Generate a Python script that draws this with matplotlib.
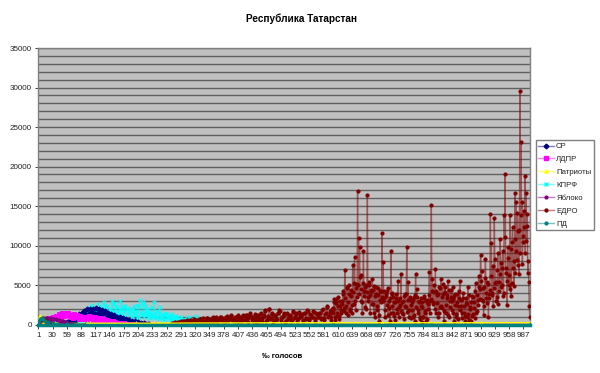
import numpy as np
import matplotlib
matplotlib.use('Agg')
import matplotlib.pyplot as plt

plt.rcParams['font.family'] = ['Liberation Sans', 'DejaVu Sans']

title = 'Республика Татарстан'
xlabel = '‰ голосов'
tick_labels = [1, 30, 59, 88, 117, 146, 175, 204, 233, 262, 291, 320, 349, 378, 407, 436, 465,
               494, 523, 552, 581, 610, 639, 668, 697, 726, 755, 784, 813, 842, 871, 900, 929, 958, 987]
y_ticks = [0, 5000, 10000, 15000, 20000, 25000, 30000, 35000]

# values, one row = 10 bins of the step given in the x list
sr_x = list(range(50, 230, 3)) + [240, 1000]
sr_y = [100, 200, 150, 300, 250, 400, 350, 500, 450, 600,
        900, 1300, 800, 1500, 1100, 1700, 1200, 1900, 1300, 2000,
        1500, 2000, 1300, 2100, 1500, 1900, 1200, 1800, 1400, 1700,
        1000, 1500, 800, 1300, 900, 1200, 600, 1000, 700, 900,
        500, 800, 400, 700, 300, 600, 250, 500, 200, 400,
        150, 350, 100, 250, 80, 150, 50, 100, 30, 50,
        0, 0]

ldpr_x = list(range(5, 197, 3)) + [1000]
ldpr_y = [300, 500, 600, 700, 650, 800, 700, 850, 750, 900,
          800, 1100, 900, 1300, 1000, 1400, 1100, 1500, 1200, 1400,
          900, 1200, 800, 1300, 1000, 1200, 700, 1100, 800, 1000,
          700, 1000, 600, 1100, 800, 900, 500, 1000, 600, 800,
          500, 800, 400, 700, 350, 600, 300, 500, 250, 400,
          200, 300, 150, 250, 100, 200, 80, 150, 50, 100,
          50, 80, 30, 20, 100]

patr_x = [1, 3, 5, 7, 10, 14, 20, 40, 100, 200, 300, 400, 500, 600, 700, 800, 900, 1000]
patr_y = [300, 700, 1050, 800, 450, 300, 250, 200, 150, 150, 180, 200, 220, 220, 220, 220, 220, 220]

kprf_x = list(range(60, 345, 3))
kprf_y = [100, 200, 150, 300, 200, 350, 250, 400, 300, 500,
          400, 700, 500, 1000, 600, 2200, 1300, 2500, 1100, 2100,
          1400, 2600, 1000, 2300, 1700, 2800, 1200, 2400, 1500, 2000,
          3000, 1100, 2700, 1400, 2200, 900, 3000, 1300, 1900, 2400,
          1000, 2100, 1500, 1800, 900, 2300, 1200, 2500, 800, 3100,
          1400, 2800, 1000, 2400, 1300, 1900, 800, 1500, 1000, 2900,
          1100, 1700, 700, 2200, 900, 1300, 700, 1500, 800, 1200,
          600, 1300, 800, 1100, 500, 900, 600, 1000, 400, 700,
          500, 800, 400, 1000, 600, 300, 500, 1100, 700, 300,
          200, 400, 150, 300, 100]
kprf_x2 = list(range(101, 281, 3))
kprf_y2 = [1300, 1900, 1000, 1600, 2000, 1200, 1700, 900, 2100, 1400,
           1800, 1100, 2300, 1500, 1000, 2000, 1300, 2600, 1700, 1100,
           2200, 1500, 1900, 1200, 2400, 1600, 1000, 2100, 1400, 1800,
           1100, 2000, 1300, 1700, 1000, 2300, 1500, 1200, 2600, 1300,
           1800, 900, 1500, 1100, 2200, 1300, 800, 1700, 1000, 1400,
           800, 1200, 600, 1300, 900, 1100, 600, 1000, 700, 900]

yab_x = list(range(1, 70, 3))
yab_y = [300, 500, 600, 700, 750, 800, 800, 750, 800, 700,
         750, 650, 700, 600, 550, 500, 450, 400, 350, 300,
         200, 100, 50]

edro_x = (list(range(1, 34, 3)) + list(range(272, 600, 3)) + list(range(600, 1001, 2)))
edro_y = [200, 500, 700, 800, 600, 450, 350, 250, 150, 80, 30,
          # 272-599
          100, 150, 80, 200, 120, 300, 150, 250, 400, 100,
          500, 200, 350, 600, 180, 450, 300, 550, 250, 650,
          300, 700, 220, 500, 800, 350, 600, 280, 750, 400,
          850, 300, 650, 900, 450, 700, 350, 950, 500, 800,
          1150, 600, 400, 950, 300, 1000, 550, 850, 400, 1050,
          600, 1250, 350, 900, 1100, 450, 800, 300, 1200, 650,
          1300, 500, 900, 1800, 400, 1050, 2000, 700, 1500, 350,
          1100, 600, 1400, 1800, 500, 900, 1300, 300, 1500, 700,
          1100, 400, 1700, 800, 1300, 500, 1600, 900, 1200, 400,
          1500, 700, 1800, 600, 1300, 900, 1700, 500, 1400, 1000,
          1500, 700, 1800, 600, 1300, 2200, 900, 1500, 600, 2000,
          # 600-798
          1500, 2800, 600, 3200, 1100, 2400, 700, 3000, 1400, 2600,
          3900, 1700, 6850, 2300, 4600, 1200, 5000, 2000, 3600, 1500,
          7520, 2600, 8500, 1800, 5100, 16900, 10900, 9760, 6300, 3000,
          1400, 9300, 4300, 2200, 5000, 16360, 3500, 5400, 1500, 4200,
          5700, 2600, 4900, 900, 3900, 1800, 4600, 500, 3100, 4300,
          11580, 7860, 3300, 1000, 3800, 4300, 1200, 3000, 500, 9300,
          4000, 1500, 2800, 600, 3300, 1900, 5500, 900, 2500, 6450,
          1500, 3000, 700, 3800, 2200, 9760, 5360, 1800, 3200, 800,
          2900, 1000, 3500, 500, 6450, 4440, 1800, 3000, 700, 2400,
          300, 2900, 1000, 3600, 1500, 400, 3100, 2000, 6630, 3000,
          # 800-1000
          15090, 5700, 2600, 4100, 7000, 1500, 3700, 900, 4700, 2200,
          5800, 2100, 3800, 500, 4800, 1500, 3400, 5500, 1000, 3000,
          4400, 1800, 3200, 400, 3800, 1300, 2800, 700, 3400, 5500,
          2400, 800, 3300, 1500, 400, 2700, 1000, 4700, 600, 2200,
          500, 3600, 1300, 2900, 800, 5300, 1700, 3100, 6200, 4500,
          8750, 6760, 3000, 1200, 4800, 8280, 3400, 5400, 1000, 3800,
          13950, 10270, 4000, 2400, 13530, 5200, 3000, 6900, 2600, 5400,
          10780, 4800, 7200, 3600, 13860, 19020, 6500, 2410, 8400, 5000,
          13900, 3590, 10440, 7200, 4900, 16650, 15500, 8200, 11800, 6400,
          29500, 23120, 15500, 10400, 14330, 18770, 16700, 12500, 6500, 5360,
          930]

# the bins in between, same series
edro_x2 = list(range(273, 601, 3)) + list(range(601, 1000, 2))
edro_y2 = [200, 120, 300, 180, 350, 150, 400, 250, 450, 200,
           520, 300, 600, 260, 480, 700, 350, 620, 280, 720,
           400, 800, 320, 650, 850, 420, 700, 360, 900, 500,
           950, 450, 700, 1000, 550, 800, 400, 1050, 600, 850,
           1100, 650, 450, 1000, 700, 1150, 500, 900, 1200, 600,
           1250, 700, 1000, 1500, 550, 950, 1300, 700, 1100, 500,
           1450, 800, 1200, 1650, 600, 1000, 1900, 850, 1300, 600,
           1250, 700, 1500, 1700, 650, 1050, 1400, 500, 1300, 800,
           1200, 600, 1600, 950, 1400, 700, 1500, 1000, 1300, 600,
           1400, 850, 1700, 750, 1250, 1000, 1550, 700, 1350, 950,
           1500, 850, 1900, 800, 1400, 2400, 1100, 1700, 900, 2100,
           # 601-999
           1800, 3200, 900, 2700, 1500, 3500, 1100, 2300, 1800, 3000,
           4200, 2100, 3300, 1500, 4700, 2900, 3800, 1700, 4400, 2500,
           4100, 5300, 3000, 4600, 3500, 5000, 3800, 6000, 4500, 2900,
           5300, 3600, 4700, 2000, 4100, 3000, 5000, 3700, 4400, 2600,
           4400, 1500, 3600, 4800, 2300, 3700, 1200, 4200, 2800, 3500,
           3000, 4300, 1800, 3600, 2500, 4600, 2100, 3300, 1400, 3900,
           2400, 3500, 1100, 2900, 3800, 1500, 3000, 2200, 3400, 1700,
           2900, 1300, 3600, 2400, 3900, 1600, 3100, 1000, 3500, 2500,
           1800, 3200, 1200, 3700, 2200, 3500, 1500, 2900, 900, 3300,
           2200, 1000, 3400, 1700, 3000, 700, 2600, 3700, 1400, 3200,
           4300, 2800, 5000, 1900, 4200, 2700, 3800, 1500, 4600, 2400,
           3500, 5100, 1700, 4100, 2500, 3700, 1200, 4400, 2200, 3500,
           3000, 4700, 1500, 3600, 2500, 1000, 3900, 2300, 4200, 1800,
           3100, 1500, 4000, 2300, 1100, 3400, 2600, 1300, 3700, 2000,
           2900, 1100, 3500, 2100, 4200, 1500, 3700, 2500, 4800, 3200,
           5500, 3100, 4600, 2300, 5900, 4000, 2700, 5100, 3400, 4400,
           6100, 3700, 7400, 4600, 8300, 5400, 3500, 9000, 4300, 6400,
           7800, 5000, 9300, 4000, 11100, 7200, 5500, 9800, 6300, 4500,
           9500, 5200, 12300, 8100, 10800, 6500, 9300, 14100, 7500, 12000,
           9000, 13900, 7700, 11200, 12400, 9000, 10600, 14000, 8000, 2300]

pd_x = [1, 3, 5, 8, 11, 15, 20, 30, 40, 60, 100, 200, 400, 600, 800, 1000]
pd_y = [200, 500, 700, 850, 650, 450, 300, 150, 80, 40, 20, 10, 10, 10, 10, 10]


def merged(x1, y1, x2, y2):
    x = np.array(x1 + x2)
    y = np.array(y1 + y2)
    order = np.argsort(x)
    return x[order], y[order]


kprf_all_x, kprf_all_y = merged(kprf_x, kprf_y, kprf_x2, kprf_y2)
edro_all_x, edro_all_y = merged(edro_x, edro_y, edro_x2, edro_y2)

# last number is the stacking order, the legend keeps the list order
series = [
    ('СР', sr_x, sr_y, '#000080', 'D', 2.6, 3.2),
    ('ЛДПР', ldpr_x, ldpr_y, '#ff00ff', 's', 2.6, 3.3),
    ('Патриоты', patr_x, patr_y, '#ffff00', '^', 2.6, 3.4),
    ('КПРФ', kprf_all_x, kprf_all_y, '#00ffff', 'x', 2.4, 3.1),
    ('Яблоко', yab_x, yab_y, '#800080', 'o', 2.2, 3.5),
    ('ЕДРО', edro_all_x, edro_all_y, '#800000', 'o', 2.3, 3.6),
    ('ПД', pd_x, pd_y, '#008080', 'o', 2.2, 3.7),
]

fig = plt.figure(figsize=(6.0, 3.73), dpi=100, facecolor='w')
ax = fig.add_axes([38 / 600, 1 - 324.5 / 373, 492 / 600, 276.5 / 373], facecolor='#c0c0c0')

ax.set_yticks(y_ticks)
ax.set_yticks(np.arange(0, 35001, 1000), minor=True)
ax.grid(True, which='both', axis='y', color='#606060', lw=1.0)
ax.set_axisbelow(True)

for name, x, y, color, marker, size, order in series:
    ax.plot(x, y, color=color, lw=1.0, alpha=0.55, zorder=order)
    ax.plot(x, y, ls='none', marker=marker, ms=size, mew=0.7, mec=color, mfc=color, zorder=order)

# zero band at the bottom of the chart
ax.plot(patr_x[8:], patr_y[8:], color='#ffff00', lw=1.0, zorder=4)
ax.plot([pd_x[0], pd_x[-1]], [0, 0], color='#008080', lw=2.5, clip_on=False, zorder=4)

ax.set_xlim(0.5, 1000.5)
ax.set_ylim(0, 35000)
ax.set_xticks(tick_labels)
ax.set_xticklabels(tick_labels, rotation=90)
ax.tick_params(axis='both', which='major', labelsize=5.8, length=2.5, width=0.7, color='#404040',
               labelcolor='#222222', pad=2)
ax.tick_params(axis='y', which='minor', length=0)
for side in ax.spines:
    ax.spines[side].set_color('#808080')
    ax.spines[side].set_linewidth(1.0)
ax.spines['bottom'].set_position(('outward', 1.2))
ax.spines['bottom'].set_color('#103030')
ax.spines['bottom'].set_linewidth(1.4)

fig.text(301 / 600, 1 - 19 / 373, title, ha='center', va='center', fontsize=7.2, fontweight='bold')
fig.text(282 / 600, 1 - 357 / 373, xlabel, ha='center', va='center', fontsize=5.6, fontweight='bold')

handles = []
for name, x, y, color, marker, size, order in series:
    h, = ax.plot([], [], color=matplotlib.colors.to_rgba(color, 0.5), lw=1.0, marker=marker, ms=size - 0.2,
                 mec=color, mfc=color, label=name)
    handles.append(h)
leg = fig.legend(handles=handles, loc='upper left', bbox_to_anchor=(535.5 / 600, 1 - 140.5 / 373),
                 fontsize=5.6, frameon=True, fancybox=False, framealpha=1, edgecolor='#808080',
                 borderaxespad=0, borderpad=0.3, labelspacing=0.7, handlelength=2.05, handletextpad=0.3,
                 labelcolor='#222222')
leg.get_frame().set_linewidth(1.0)

fig.savefig('out.png', dpi=100)
plt.close(fig)
